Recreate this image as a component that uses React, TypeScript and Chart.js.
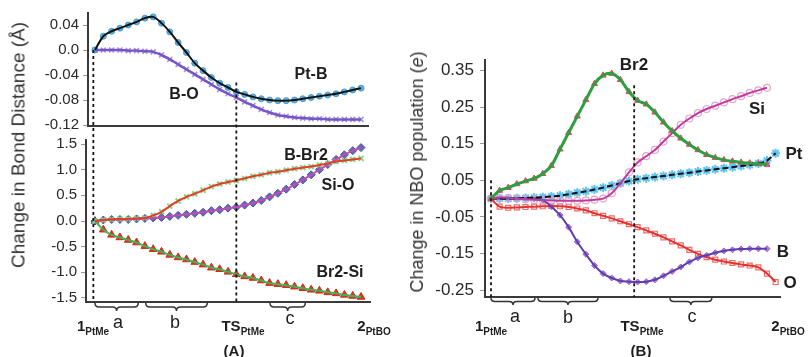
import React, { useEffect, useRef } from 'react';
import { Chart, registerables } from 'chart.js';

Chart.register(...registerables);

const W = 811;
const H = 357;
const FONT = '"Liberation Sans", Arial, Helvetica, sans-serif';

// ---------- Panel A (top): change in bond distance, Å ----------
const ptB = [0, 0.022, 0.030, 0.035, 0.040, 0.045, 0.051, 0.053, 0.043, 0.029, 0.012, -0.004, -0.021, -0.033, -0.044, -0.053, -0.060, -0.067, -0.071, -0.075, -0.078, -0.080, -0.081, -0.081, -0.080, -0.078, -0.076, -0.074, -0.072, -0.070, -0.067, -0.064, -0.061];
const bO = [0, 0, 0, 0, -0.001, -0.001, -0.002, -0.003, -0.008, -0.015, -0.023, -0.031, -0.039, -0.047, -0.055, -0.063, -0.070, -0.076, -0.083, -0.089, -0.095, -0.100, -0.104, -0.106, -0.108, -0.109, -0.110, -0.110, -0.111, -0.111, -0.111, -0.111, -0.111];

// ---------- Panel A (bottom) ----------
const bBr2 = [0, 0.02, 0.03, 0.04, 0.04, 0.05, 0.06, 0.11, 0.18, 0.29, 0.39, 0.47, 0.53, 0.60, 0.67, 0.72, 0.76, 0.79, 0.83, 0.87, 0.90, 0.94, 0.96, 0.99, 1.02, 1.04, 1.06, 1.09, 1.12, 1.16, 1.18, 1.20, 1.22];
const siO = [0, 0.02, 0.03, 0.03, 0.03, 0.04, 0.05, 0.06, 0.07, 0.09, 0.11, 0.13, 0.15, 0.17, 0.20, 0.22, 0.25, 0.27, 0.31, 0.35, 0.40, 0.47, 0.54, 0.62, 0.71, 0.80, 0.90, 1.00, 1.10, 1.20, 1.29, 1.37, 1.43];
const br2Si = [0, -0.17, -0.27, -0.32, -0.37, -0.42, -0.49, -0.55, -0.60, -0.66, -0.71, -0.75, -0.80, -0.85, -0.91, -0.94, -0.99, -1.04, -1.08, -1.11, -1.16, -1.21, -1.23, -1.25, -1.28, -1.31, -1.34, -1.36, -1.39, -1.41, -1.44, -1.46, -1.48];

// ---------- Panel B: change in NBO population (e) ----------
const nboBr2 = [0, 0.022, 0.030, 0.040, 0.048, 0.055, 0.068, 0.090, 0.135, 0.180, 0.225, 0.270, 0.314, 0.337, 0.342, 0.325, 0.292, 0.268, 0.258, 0.236, 0.209, 0.185, 0.165, 0.148, 0.133, 0.120, 0.112, 0.106, 0.102, 0.099, 0.097, 0.095, 0.093];
const nboSi = [0, 0.003, 0.002, 0, -0.002, -0.003, -0.004, -0.005, -0.006, -0.006, -0.006, -0.005, -0.003, 0, 0.015, 0.042, 0.072, 0.099, 0.116, 0.133, 0.156, 0.179, 0.202, 0.219, 0.234, 0.245, 0.254, 0.263, 0.272, 0.280, 0.289, 0.296, 0.303];
const nboPt = [0, 0, 0, 0.001, 0.002, 0.003, 0.004, 0.006, 0.008, 0.012, 0.016, 0.020, 0.025, 0.030, 0.036, 0.042, 0.048, 0.053, 0.056, 0.059, 0.062, 0.065, 0.068, 0.071, 0.074, 0.077, 0.080, 0.083, 0.086, 0.089, 0.092, 0.096, 0.104, 0.124];
const nboB = [0, 0, 0, 0, 0, 0.001, -0.004, -0.022, -0.045, -0.078, -0.118, -0.152, -0.183, -0.205, -0.217, -0.225, -0.227, -0.228, -0.227, -0.222, -0.211, -0.199, -0.187, -0.173, -0.162, -0.155, -0.148, -0.143, -0.140, -0.138, -0.137, -0.137, -0.137];
const nboO = [0, -0.022, -0.025, -0.024, -0.023, -0.022, -0.021, -0.020, -0.021, -0.023, -0.027, -0.032, -0.040, -0.047, -0.054, -0.062, -0.070, -0.078, -0.087, -0.096, -0.106, -0.117, -0.128, -0.140, -0.151, -0.160, -0.167, -0.172, -0.176, -0.180, -0.183, -0.188, -0.205, -0.228];

// ---------- ticks ----------
const ticksATop = [0.04, 0, -0.04, -0.08, -0.12];
const ticksABot = [1.5, 1.0, 0.5, 0, -0.5, -1.0, -1.5];
const ticksB = [0.35, 0.25, 0.15, 0.05, -0.05, -0.15, -0.25];

// reaction-coordinate markers (step index)
const dashXA = [-0.2, 17];
const dashTopA = [0, -0.052];
const dashXB = [0, 16.6];
const dashTopB = [0.05, 0.31];
const bracketsA: number[][] = [[0, 5.2], [6.1, 13.5], [21.05, 25.3]];
const bracketsB: number[][] = [[0, 5.1], [5.45, 12.4], [20.75, 25.6]];

function pts(values: number[]) {
  return values.map((v, i) => ({ x: i, y: v }));
}

function series(values: number[], line: any, marker: any) {
  return [
    {
      data: pts(values),
      showLine: true,
      borderColor: line.color,
      borderWidth: line.width,
      borderDash: line.dash || [],
      pointRadius: 0,
      tension: 0.3,
      fill: false,
      order: 1,
    },
    {
      data: pts(values),
      showLine: false,
      pointStyle: marker.style,
      pointRadius: marker.radius,
      pointBackgroundColor: marker.fill,
      pointBorderColor: marker.stroke,
      pointBorderWidth: marker.bw,
      order: 2,
    },
  ];
}

function guides(getY: (chart: any) => any, dashX: number[], dashTop: number[], brackets: number[][], bOff: number[]) {
  return {
    id: 'guides',
    afterDraw(chart: any) {
      const { ctx, chartArea: a } = chart;
      const xs = chart.scales.x;
      const ys = getY(chart);
      ctx.save();
      ctx.strokeStyle = '#151515';
      ctx.lineWidth = 1.8;
      ctx.setLineDash([3, 3]);
      dashX.forEach((xv, k) => {
        const px = xs.getPixelForValue(xv);
        ctx.beginPath();
        ctx.moveTo(px, ys.getPixelForValue(dashTop[k]));
        ctx.lineTo(px, a.bottom);
        ctx.stroke();
      });
      ctx.setLineDash([]);
      ctx.lineWidth = 1.5;
      ctx.strokeStyle = '#333';
      brackets.forEach(([s, e]) => {
        const x1 = xs.getPixelForValue(s);
        const x2 = xs.getPixelForValue(e);
        const m = (x1 + x2) / 2;
        const y0 = a.bottom + bOff[0];
        const y1 = a.bottom + bOff[1];
        const y2 = a.bottom + bOff[2];
        ctx.beginPath();
        ctx.moveTo(x1, y0);
        ctx.quadraticCurveTo(x1, y1, x1 + 4, y1);
        ctx.lineTo(m - 4, y1);
        ctx.quadraticCurveTo(m, y1, m, y2);
        ctx.quadraticCurveTo(m, y1, m + 4, y1);
        ctx.lineTo(x2 - 4, y1);
        ctx.quadraticCurveTo(x2, y1, x2, y0);
        ctx.stroke();
      });
      ctx.restore();
    },
  };
}

function buildChart(canvas: HTMLCanvasElement, cfg: any) {
  const { area, xMin, xMax, yMin, yMax, yTicks, fmt, fontSize, tickPad, datasets, plugins } = cfg;
  return new Chart(canvas, {
    type: 'line',
    data: { datasets },
    options: {
      responsive: false,
      animation: false,
      events: [],
      layout: { padding: { left: 0, top: area.top, right: W - area.right, bottom: H - area.bottom } },
      plugins: { legend: { display: false }, tooltip: { enabled: false } },
      scales: {
        x: {
          type: 'linear',
          min: xMin,
          max: xMax,
          ticks: { display: false },
          grid: { display: false, drawTicks: false },
          border: { display: true, color: '#3a3a3a', width: 2 },
          afterFit: (s: any) => {
            s.height = 0;
            s.paddingLeft = 0;
            s.paddingRight = 0;
            s.paddingTop = 0;
            s.paddingBottom = 0;
          },
        },
        y: {
          type: 'linear',
          min: yMin,
          max: yMax,
          afterBuildTicks: (s: any) => {
            s.ticks = yTicks.map((v: number) => ({ value: v }));
          },
          ticks: {
            color: '#2a2a2a',
            font: { family: FONT, size: fontSize },
            padding: tickPad,
            autoSkip: false,
            callback: (v: any) => fmt(Number(v)),
          },
          grid: { drawOnChartArea: false, drawTicks: true, tickLength: 5, color: '#9a9a9a', lineWidth: 1 },
          border: { display: true, color: '#3a3a3a', width: 2 },
          afterFit: (s: any) => {
            s.width = area.left;
            s.paddingTop = 0;
            s.paddingBottom = 0;
          },
        },
      },
    } as any,
    plugins: plugins || [],
  } as any);
}

const Txt = ({ x, y, size = 16, bold = true, children, rotate = 0, color = '#1e1e1e', italic = false }: any) => (
  <div
    style={{
      position: 'absolute',
      left: x,
      top: y,
      transform: `translate(-50%, -50%)${rotate ? ` rotate(${rotate}deg)` : ''}`,
      fontFamily: FONT,
      fontSize: size,
      fontWeight: bold ? 'bold' : 'normal',
      fontStyle: italic ? 'italic' : 'normal',
      color,
      whiteSpace: 'nowrap',
      lineHeight: 1,
    }}
  >
    {children}
  </div>
);

const Sub = ({ main, sub }: any) => (
  <span>
    {main}
    <span style={{ fontSize: 10, position: 'relative', top: 4 }}>{sub}</span>
  </span>
);

export default function App() {
  const refTop = useRef<HTMLCanvasElement>(null);
  const refBot = useRef<HTMLCanvasElement>(null);
  const refB = useRef<HTMLCanvasElement>(null);

  useEffect(() => {
    const cTop = buildChart(refTop.current!, {
      area: { left: 88, top: 13, right: 368, bottom: 126 },
      xMin: -0.84,
      xMax: 32.84,
      yMin: -0.1216,
      yMax: 0.0592,
      yTicks: ticksATop,
      fmt: (v: number) => (v === 0 ? '0.0' : v.toFixed(2)),
      fontSize: 15,
      tickPad: 4,
      datasets: [
        ...series(ptB, { color: '#111', width: 2 }, { style: 'circle', radius: 3, fill: '#5fb0dc', stroke: '#4a9cd0', bw: 1 }),
        ...series(bO, { color: '#7656c6', width: 2.5 }, { style: 'crossRot', radius: 3.5, fill: '#a58de0', stroke: '#a58de0', bw: 1.5 }),
      ],
    });
    const cBot = buildChart(refBot.current!, {
      area: { left: 86, top: 140, right: 370, bottom: 302 },
      xMin: -1.083,
      xMax: 33.08,
      yMin: -1.578,
      yMax: 1.578,
      yTicks: ticksABot,
      fmt: (v: number) => v.toFixed(1),
      fontSize: 15,
      tickPad: 4,
      datasets: [
        ...series(bBr2, { color: '#e83b26', width: 2 }, { style: 'crossRot', radius: 3.5, fill: '#7fd68a', stroke: '#7fd68a', bw: 2 }),
        ...series(siO, { color: '#c04cb4', width: 2 }, { style: 'rectRot', radius: 4, fill: '#5c6cb8', stroke: '#45559e', bw: 1 }),
        ...series(br2Si, { color: '#3db35a', width: 2 }, { style: 'triangle', radius: 4.5, fill: '#e4321e', stroke: '#d02a18', bw: 1 }),
      ],
      plugins: [guides(() => cTop.scales.y, dashXA, dashTopA, bracketsA, [1, 5, 9])],
    });
    const cB = buildChart(refB.current!, {
      area: { left: 485, top: 60, right: 780, bottom: 297 },
      xMin: -0.696,
      xMax: 33.51,
      yMin: -0.269,
      yMax: 0.379,
      yTicks: ticksB,
      fmt: (v: number) => v.toFixed(2),
      fontSize: 17,
      tickPad: 6,
      datasets: [
        ...series(nboBr2, { color: '#2f9e40', width: 3 }, { style: 'triangle', radius: 3.5, fill: '#e05a6e', stroke: '#d84a5e', bw: 1 }),
        ...series(nboSi, { color: '#c2389e', width: 2 }, { style: 'circle', radius: 3.5, fill: 'rgba(255,255,255,0)', stroke: '#e3a6c7', bw: 1.2 }),
        ...series(nboPt, { color: '#111', width: 2, dash: [6, 3] }, { style: 'star', radius: 4.5, fill: '#5cc4f2', stroke: '#5cc4f2', bw: 2 }),
        ...series(nboB, { color: '#5a3fb0', width: 2 }, { style: 'rectRot', radius: 3, fill: '#b47ad4', stroke: '#a060c8', bw: 1 }),
        ...series(nboO, { color: '#e2332e', width: 2 }, { style: 'rect', radius: 3.5, fill: 'rgba(255,255,255,0)', stroke: '#f06a6a', bw: 1.2 }),
      ],
      plugins: [guides((chart: any) => chart.scales.y, dashXB, dashTopB, bracketsB, [1, 4.5, 8])],
    });
    return () => {
      cTop.destroy();
      cBot.destroy();
      cB.destroy();
    };
  }, []);

  const cv = { position: 'absolute' as const, left: 0, top: 0 };
  return (
    <div style={{ position: 'absolute', left: 0, top: 0, width: W, height: H, background: '#fff', overflow: 'hidden' }}>
      <canvas ref={refTop} width={W} height={H} style={cv} />
      <canvas ref={refBot} width={W} height={H} style={cv} />
      <canvas ref={refB} width={W} height={H} style={cv} />

      {/* Panel A */}
      <Txt x={18} y={145} size={19} bold={false} rotate={-90} color="#333">Change in Bond Distance (Å)</Txt>
      <Txt x={311} y={74}>Pt-B</Txt>
      <Txt x={184} y={94}>B-O</Txt>
      <Txt x={306} y={155}>B-Br2</Txt>
      <Txt x={338} y={185}>Si-O</Txt>
      <Txt x={340} y={272}>Br2-Si</Txt>
      <Txt x={93} y={325} size={15}><Sub main="1" sub="PtMe" /></Txt>
      <Txt x={118} y={322} size={18} bold={false}>a</Txt>
      <Txt x={175} y={322} size={18} bold={false}>b</Txt>
      <Txt x={243} y={325} size={15}><Sub main="TS" sub="PtMe" /></Txt>
      <Txt x={290} y={318} size={18} bold={false}>c</Txt>
      <Txt x={374} y={325} size={15}><Sub main="2" sub="PtBO" /></Txt>
      <Txt x={234} y={350} size={15}>(A)</Txt>

      {/* Panel B */}
      <Txt x={417} y={172} size={18} bold={false} rotate={-90} color="#333">
        Change in NBO population (<i>e</i>)
      </Txt>
      <Txt x={634} y={64} size={17}>Br2</Txt>
      <Txt x={757} y={108} size={17}>Si</Txt>
      <Txt x={794} y={153} size={17}>Pt</Txt>
      <Txt x={783} y={251} size={17}>B</Txt>
      <Txt x={790} y={282} size={17}>O</Txt>
      <Txt x={491} y={325} size={15}><Sub main="1" sub="PtMe" /></Txt>
      <Txt x={515} y={316} size={18} bold={false}>a</Txt>
      <Txt x={568} y={317} size={18} bold={false}>b</Txt>
      <Txt x={642} y={325} size={15}><Sub main="TS" sub="PtMe" /></Txt>
      <Txt x={692} y={316} size={18} bold={false}>c</Txt>
      <Txt x={788} y={325} size={15}><Sub main="2" sub="PtBO" /></Txt>
      <Txt x={641} y={350} size={15}>(B)</Txt>
    </div>
  );
}
